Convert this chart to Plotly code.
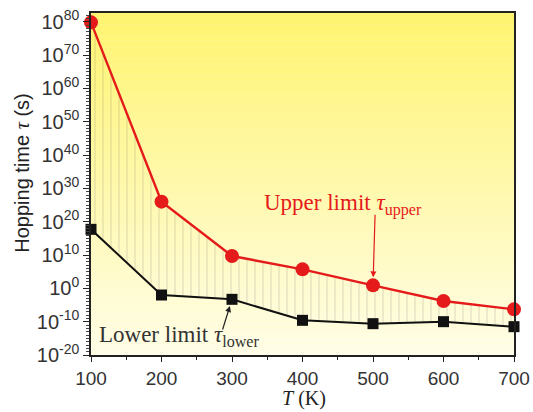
import plotly.graph_objects as go

# ---- data ----
temperature = [100, 200, 300, 400, 500, 600, 700]
log_tau_upper = [79.8, 26.0, 9.7, 5.7, 0.9, -3.8, -6.3]
log_tau_lower = [17.7, -2.0, -3.3, -9.6, -10.6, -10.0, -11.5]
tau_upper = [10 ** v for v in log_tau_upper]
tau_lower = [10 ** v for v in log_tau_lower]

y_tick_exps = [-20, -10, 0, 10, 20, 30, 40, 50, 60, 70, 80]
x_ticks = [100, 200, 300, 400, 500, 600, 700]

RED = "#e51a1a"
SERIF = "Liberation Serif, DejaVu Serif, serif"
SANS = "Liberation Sans, Arial, sans-serif"

fig = go.Figure()

# lower limit (base for fill)
fig.add_trace(go.Scatter(
    x=temperature, y=tau_lower, mode="lines+markers",
    line=dict(color="#111111", width=2),
    marker=dict(symbol="square", size=11, color="#111111"),
    showlegend=False, cliponaxis=False,
))
# upper limit with hatched fill down to lower
fig.add_trace(go.Scatter(
    x=temperature, y=tau_upper, mode="lines+markers",
    line=dict(color=RED, width=2.4),
    marker=dict(symbol="circle", size=14, color=RED),
    fill="tonexty", fillcolor="rgba(0,0,0,0)",
    fillpattern=dict(shape="|", size=8, solidity=0.08,
                     fgcolor="rgba(70,70,70,0.6)", bgcolor="rgba(0,0,0,0)"),
    showlegend=False, cliponaxis=False,
))

# background gradient (yellow -> cream)
shapes = []
n = 60
top = (255, 244, 112)
bot = (255, 253, 232)
for i in range(n):
    t = i / (n - 1)
    c = tuple(round(top[k] + (bot[k] - top[k]) * t) for k in range(3))
    shapes.append(dict(type="rect", xref="x domain", yref="y domain",
                       x0=0, x1=1, y0=1 - (i + 1) / n, y1=1 - i / n,
                       fillcolor="rgb(%d,%d,%d)" % c, line=dict(width=0),
                       layer="below"))

fig.update_layout(
    width=533, height=412, autosize=False,
    margin=dict(l=91, r=19, t=13, b=57),
    paper_bgcolor="white", plot_bgcolor="rgb(255,250,180)",
    shapes=shapes,
    font=dict(family=SANS, color="#222222"),
)

fig.update_xaxes(
    range=[100, 700], tickvals=x_ticks, ticktext=[str(v) for v in x_ticks],
    ticks="outside", ticklen=5, tickcolor="#222", tickwidth=1.2,
    minor=dict(ticks="outside", ticklen=3, dtick=50, tickcolor="#222"),
    showline=True, linecolor="#222", linewidth=1.5, mirror=True,
    showgrid=False, zeroline=False, ticklabeloverflow="allow", automargin=False,
    tickfont=dict(size=19, family=SANS, color="#333"),
)
fig.update_yaxes(
    type="log", range=[-20, 82.6],
    tickvals=[10.0 ** e for e in y_tick_exps],
    ticktext=["10<sup>%d</sup>" % e for e in y_tick_exps],
    ticks="outside", ticklen=6, tickcolor="#222", tickwidth=1.2,
    minor=dict(ticks="outside", ticklen=3, tickcolor="#444",
               tickvals=[10.0 ** e for e in range(-20, 83)]),
    showline=True, linecolor="#222", linewidth=1.5, mirror=True,
    showgrid=False, zeroline=False, ticklabeloverflow="allow", automargin=False,
    tickfont=dict(size=20, family=SANS, color="#333"),
)

# axis titles
fig.add_annotation(
    x=0, y=0.53, xref="paper", yref="paper", xshift=-69,
    text="Hopping time <span style='font-family:Liberation Serif'><i>τ</i></span> (s)",
    showarrow=False, textangle=-90, xanchor="center", yanchor="middle",
    font=dict(size=20, family=SANS, color="#222"),
)
fig.add_annotation(
    x=0.504, y=0, xref="paper", yref="paper", yshift=-43,
    text="<i>T</i> (K)", showarrow=False, xanchor="center", yanchor="middle",
    font=dict(size=20, family=SERIF, color="#222"),
)

# labels with arrows
fig.add_annotation(
    x=0.596, y=0.44, xref="paper", yref="paper",
    text="Upper limit <i>τ</i><sub>upper</sub>", showarrow=False,
    font=dict(family=SERIF, size=23, color=RED), xanchor="center", yanchor="middle",
)
fig.add_annotation(
    x=500, y=log_tau_upper[4], xref="x", yref="y",
    ax=503, ay=22.5, axref="x", ayref="y",
    text="", showarrow=True, arrowhead=2, arrowsize=1, arrowwidth=1.2,
    arrowcolor=RED, standoff=8,
)
fig.add_annotation(
    x=0.015, y=0.055, xref="paper", yref="paper",
    text="Lower limit <i>τ</i><sub>lower</sub>", showarrow=False,
    font=dict(family=SERIF, size=23, color="#333"), xanchor="left", yanchor="middle",
)
fig.add_annotation(
    x=300, y=log_tau_lower[2], xref="x", yref="y",
    ax=286, ay=-12.8, axref="x", ayref="y",
    text="", showarrow=True, arrowhead=2, arrowsize=1, arrowwidth=1.2,
    arrowcolor="#222", standoff=7,
)

# remove the page's default body margin and scrollbars so the figure fills the window
fig.write_html(
    "out.html",
    config={"displayModeBar": False, "responsive": False},
    post_script="document.body.style.margin='0';"
                "document.documentElement.style.overflow='hidden';"
                "document.body.style.overflow='hidden';",
)
